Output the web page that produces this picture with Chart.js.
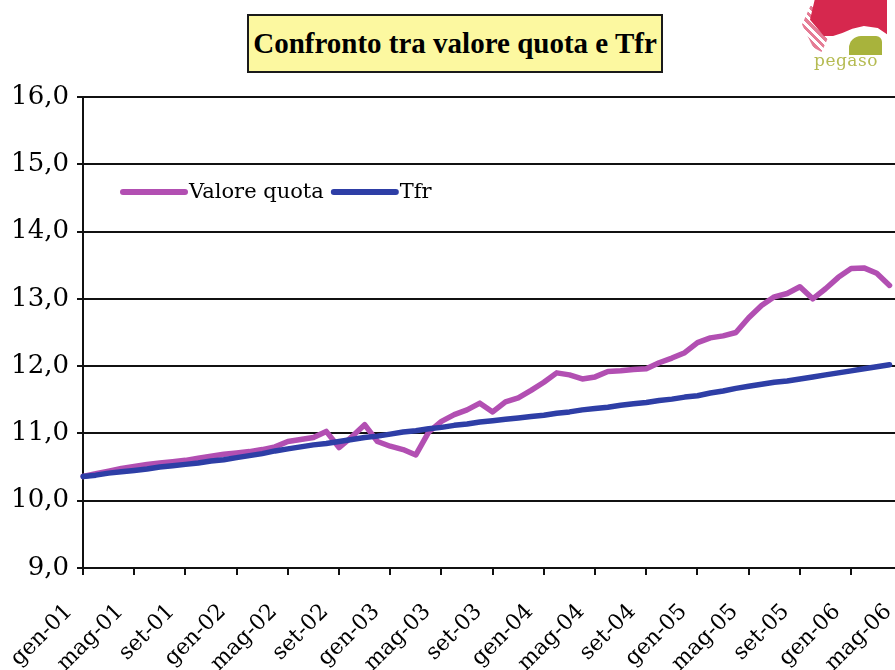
<!DOCTYPE html>
<html><head><meta charset="utf-8">
<script src="https://cdn.jsdelivr.net/npm/chart.js@4.4.1/dist/chart.umd.min.js"></script>
<style>
html,body{margin:0;padding:0;background:#fff;overflow:hidden;width:895px;height:670px;}
#wrap{position:relative;width:895px;height:670px;overflow:hidden;background:#fff;}
#cv{position:absolute;left:0;top:0;}
#title{position:absolute;left:247px;top:14px;width:412px;height:55px;background:#FCF8A0;border:2px solid #1a1a1a;display:flex;align-items:center;justify-content:center;font-family:"Liberation Serif",serif;font-weight:bold;font-size:29px;color:#000;white-space:nowrap;box-sizing:content-box;}
#logoRed{position:absolute;left:810px;top:0;width:77px;height:36px;background:#d6284e;clip-path:polygon(6% 0,100% 0,100% 95%,88% 78%,70% 72%,55% 80%,42% 92%,30% 100%,18% 100%,0 55%);}
#logoFringe{position:absolute;left:802px;top:6px;width:28px;height:46px;background:repeating-linear-gradient(45deg,#e57c95 0 3px,#fff 3px 6px);clip-path:polygon(30% 0,100% 0,100% 60%,70% 100%,40% 90%,0 40%);}
#logoGreen{position:absolute;left:849px;top:36px;width:33px;height:19px;background:#a8b33c;border-radius:12px 6px 0 0;}
#logoText{position:absolute;left:814px;top:50px;font-family:"DejaVu Serif",serif;font-size:17px;color:#b5bb52;letter-spacing:0.5px;}
</style>
</head>
<body>
<div id="wrap">
<canvas id="cv" width="945" height="670" style="width:945px;height:670px;"></canvas>
<div id="title">Confronto tra valore quota e Tfr</div>
<div id="logoFringe"></div>
<div id="logoRed"></div>
<div id="logoGreen"></div>
<div id="logoText">pegaso</div>
</div>
<script>
// ---- data ----
const monthNames = ['gen','feb','mar','apr','mag','giu','lug','ago','set','ott','nov','dic'];
const yearNames = ['01','02','03','04','05','06'];
const monthCount = 65; // gen-01 .. mag-06
const seriesNames = ['Valore quota', 'Tfr'];
const valoreQuota = [
  10.36,10.40,10.44,10.48,10.51,10.54,10.56,10.58,10.60,10.63,10.66,10.69,
  10.71,10.73,10.76,10.80,10.88,10.91,10.94,11.03,10.79,10.95,11.13,10.88,
  10.81,10.76,10.68,11.02,11.18,11.28,11.35,11.45,11.32,11.47,11.53,11.64,
  11.76,11.90,11.87,11.81,11.84,11.92,11.93,11.95,11.96,12.05,12.12,12.20,
  12.35,12.42,12.45,12.50,12.72,12.90,13.03,13.08,13.18,13.00,13.15,13.32,
  13.45,13.46,13.38,13.20
];
const tfr = [
  10.36,10.38,10.41,10.43,10.45,10.47,10.50,10.52,10.54,10.56,10.59,10.61,
  10.64,10.67,10.70,10.74,10.77,10.80,10.83,10.85,10.88,10.91,10.94,10.96,
  10.99,11.02,11.04,11.07,11.09,11.12,11.14,11.17,11.19,11.21,11.23,11.25,
  11.27,11.30,11.32,11.35,11.37,11.39,11.42,11.44,11.46,11.49,11.51,11.54,
  11.56,11.60,11.63,11.67,11.70,11.73,11.76,11.78,11.81,11.84,11.87,11.90,
  11.93,11.96,11.99,12.02
];
const yMin = 9, yMax = 16, yStep = 1;
const labelEvery = 4;

const categories = [];
for (let i = 0; i < monthCount; i++) {
  categories.push(monthNames[i % 12] + '-' + yearNames[Math.floor(i / 12)]);
}

const colors = ['#B24FB2', '#2E3EA6'];

const insideLegend = {
  id: 'insideLegend',
  afterDraw(chart) {
    const ctx = chart.ctx;
    ctx.save();
    ctx.font = '21px "DejaVu Serif"';
    ctx.textBaseline = 'middle';
    ctx.fillStyle = '#000';
    let x = 123;
    const y = 192;
    chart.data.datasets.forEach((ds, i) => {
      ctx.strokeStyle = ds.borderColor;
      ctx.lineWidth = 6;
      ctx.lineCap = 'round';
      ctx.beginPath();
      ctx.moveTo(x, y);
      ctx.lineTo(x + 62, y);
      ctx.stroke();
      x += 66;
      ctx.fillText(ds.label, x, y + 1);
      x += ctx.measureText(ds.label).width + 10;
    });
    ctx.restore();
  }
};

new Chart(document.getElementById('cv'), {
  type: 'line',
  data: {
    labels: categories,
    datasets: [
      { label: seriesNames[0], data: valoreQuota, borderColor: colors[0], backgroundColor: colors[0], borderWidth: 5.5, pointRadius: 0, tension: 0, order: 2, borderCapStyle: 'round', borderJoinStyle: 'round' },
      { label: seriesNames[1], data: tfr, borderColor: colors[1], backgroundColor: colors[1], borderWidth: 5.5, pointRadius: 0, tension: 0, order: 1, borderCapStyle: 'round', borderJoinStyle: 'round' }
    ]
  },
  options: {
    responsive: false,
    animation: false,
    layout: { padding: { top: 97, right: 0, left: 0, bottom: 0 } },
    plugins: { legend: { display: false }, title: { display: false }, tooltip: { enabled: false } },
    scales: {
      x: {
        type: 'category',
        offset: false,
        border: { display: true, color: '#111', width: 2 },
        grid: { drawOnChartArea: false, drawTicks: true, tickLength: 7, color: '#111', lineWidth: 2 },
        ticks: {
          autoSkip: false, minRotation: 45, maxRotation: 45, labelOffset: -14, padding: 24,
          color: '#000', font: { family: 'DejaVu Serif', size: 22 },
          callback: (v, i) => (i % labelEvery === 0 ? categories[i] : null)
        },
        afterFit: s => { s.height = 102; }
      },
      y: {
        min: yMin, max: yMax,
        border: { display: true, color: '#111', width: 2 },
        grid: { color: '#111', lineWidth: 2, tickLength: 6 },
        ticks: {
          stepSize: yStep, padding: 8, color: '#000',
          font: { family: 'DejaVu Serif', size: 26 },
          callback: v => Number(v).toFixed(1).replace('.', ',')
        },
        afterFit: s => { s.width = 83; }
      }
    }
  },
  plugins: [insideLegend]
});
</script>
</body></html>
